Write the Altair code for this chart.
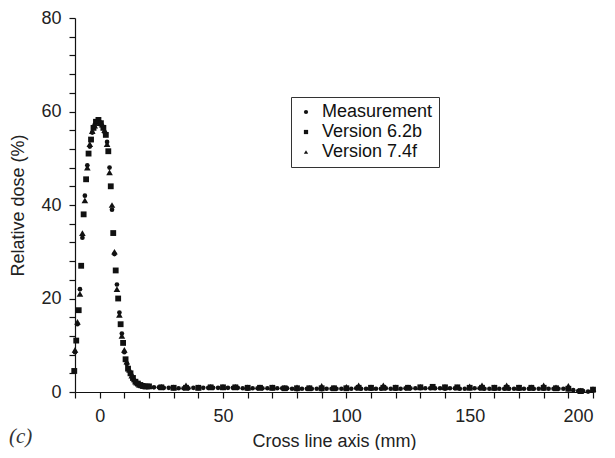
import altair as alt
import pandas as pd

SERIES = ["Measurement", "Version 6.2b", "Version 7.4f"]

# Measurement: peak region every 1 mm, tail every 2 mm
meas_x_peak = list(range(-10, 20))
meas_y_peak = [8.5, 14.5, 22, 33, 42, 48.5, 52.5, 55.5, 57.2, 58,
               57.8, 57, 55.5, 53.5, 48, 39, 29.5, 23, 17, 12.5,
               8.5, 6, 4.5, 3.5, 2.5, 2, 1.6, 1.4, 1.2, 1.1]
meas_x_tail = list(range(20, 201, 2))
meas_y_tail = [1.1, 1.0, 1.0, 0.9, 0.9, 0.8, 0.8, 0.8, 0.8, 0.9,
               0.8, 0.9, 0.9, 0.9, 0.9, 0.9, 0.9, 0.9, 0.9, 0.8,
               0.7, 0.8, 0.8, 0.8, 0.8, 0.8, 0.8, 0.8, 0.8, 0.7,
               0.6, 0.7, 0.7, 0.7, 0.7, 0.6, 0.7, 0.7, 0.7, 0.7,
               0.7, 0.7, 0.8, 0.7, 0.7, 0.7, 0.7, 0.7, 0.8, 0.7,
               0.7, 0.7, 0.8, 0.8, 0.8, 0.8, 0.8, 0.8, 0.8, 0.8,
               0.7, 0.8, 0.8, 0.7, 0.7, 0.8, 0.8, 0.8, 0.7, 0.7,
               0.7, 0.7, 0.7, 0.7, 0.7, 0.7, 0.7, 0.7, 0.7, 0.7,
               0.7, 0.7, 0.7, 0.7, 0.7, 0.6, 0.4, 0.2, 0.2, 0.1,
               0.3]

# Version 6.2b (squares)
v62_x_peak = [-10.3, -9.5, -8.5, -7.5, -6.5, -5.5, -4.5, -3.5, -2.5, -1.5,
              -0.5, 0.5, 1.5, 2.5, 3.5, 4.5, 5.5, 6.5, 7.5, 8.5,
              9.5, 10.5, 11.5, 12.5, 13.5, 14.5, 15.5, 16.5, 17.5, 18.5]
v62_y_peak = [4.5, 11, 17.5, 27, 38, 45.5, 51, 54, 56.5, 57.8,
              58.2, 57.5, 56.5, 55, 51.5, 44, 34, 26, 20, 14.5,
              10.5, 7, 5, 4, 3, 2.2, 1.8, 1.5, 1.3, 1.2]
v62_x_tail = list(range(20, 201, 5))
v62_y_tail = [1.2, 1.0, 0.9, 0.9, 0.9, 1.0, 1.0, 1.0, 0.9, 0.9,
              0.9, 0.8, 0.8, 0.8, 0.8, 0.8, 0.8, 0.9, 0.9, 0.9,
              0.9, 0.9, 1.0, 1.1, 1.0, 1.0, 0.9, 0.9, 0.9, 0.9,
              0.9, 0.9, 0.9, 0.8, 0.7, 0.2, 0.5]

# Version 7.4f (triangles)
v74_x_peak = list(range(-10, 20))
v74_y_peak = [9, 15, 21, 34, 41, 48, 53, 55.8, 57, 58,
              57.5, 57.2, 56, 53, 47, 40, 30, 22, 16.5, 12,
              9, 6.5, 4.8, 3.5, 2.7, 2.0, 1.6, 1.4, 1.3, 1.2]
v74_x_tail = list(range(20, 201, 5))
v74_y_tail = [1.3, 1.1, 1.0, 1.4, 1.0, 1.1, 1.1, 1.1, 1.0, 1.0,
              1.0, 0.9, 1.0, 0.9, 1.3, 0.9, 1.1, 1.4, 1.0, 1.4,
              1.0, 1.0, 1.1, 1.0, 1.1, 1.0, 1.2, 1.4, 1.0, 1.4,
              1.0, 1.0, 1.4, 1.0, 1.3, 0.3, 0.6]

frames = []
for name, xs, ys in [
    (SERIES[0], meas_x_peak + meas_x_tail, meas_y_peak + meas_y_tail),
    (SERIES[1], v62_x_peak + v62_x_tail, v62_y_peak + v62_y_tail),
    (SERIES[2], v74_x_peak + v74_x_tail, v74_y_peak + v74_y_tail),
]:
    frames.append(pd.DataFrame({"x": xs, "y": ys, "series": name}))
df = pd.concat(frames, ignore_index=True)

FONT = "Liberation Sans"
INK = "#111111"

x_enc = alt.X(
    "x:Q",
    scale=alt.Scale(domain=[-10, 200], nice=False, zero=False),
    axis=alt.Axis(
        values=list(range(-10, 201, 10)),
        labelExpr="datum.value % 50 === 0 ? datum.label : ''",
        labelPadding=9,
        title="Cross line axis (mm)",
        titleY=54,
        titleBaseline="alphabetic",
    ),
)
y_enc = alt.Y(
    "y:Q",
    scale=alt.Scale(domain=[0, 80], nice=False),
    axis=alt.Axis(
        values=list(range(0, 81, 4)),
        labelExpr="datum.value % 20 === 0 ? datum.label : ''",
        labelPadding=8,
        title="Relative dose (%)",
        titleX=-57,
        titleY=187,
        titleAngle=270,
        titleBaseline="middle",
        titleAlign="center",
    ),
)
shape_enc = alt.Shape(
    "series:N",
    scale=alt.Scale(domain=SERIES, range=["circle", "square", "triangle-up"]),
    legend=alt.Legend(
        title=None,
        orient="none",
        legendX=216,
        legendY=79,
        strokeColor="#333333",
        fillColor="white",
        padding=6,
        labelFont=FONT,
        labelFontSize=18,
        labelColor=INK,
        labelOffset=7,
        labelExpr="datum.label + '\u00a0\u00a0'",
        symbolSize=18,
        symbolFillColor=INK,
        symbolStrokeColor=INK,
        rowPadding=2,
    ),
)

sizes = {SERIES[0]: 22, SERIES[1]: 34, SERIES[2]: 44}
layers = []
for s in SERIES:
    layers.append(
        alt.Chart(df)
        .transform_filter(alt.datum.series == s)
        .mark_point(filled=True, size=sizes[s], color=INK, opacity=1)
        .encode(x=x_enc, y=y_enc, shape=shape_enc)
    )

chart = (
    alt.layer(*layers)
    .properties(
        width=518,
        height=374,
        padding={"left": 67, "top": 10, "right": 14, "bottom": 58},
        autosize=alt.AutoSizeParams(type="none"),
        title=alt.TitleParams(
            "(c)",
            orient="top",
            anchor="start",
            baseline="alphabetic",
            dy=459,
            font="Liberation Serif",
            fontStyle="italic",
            fontWeight="normal",
            fontSize=21,
            color="#333333",
        ),
    )
    .configure_view(stroke=None)
    .configure_axis(
        grid=False,
        domainColor=INK,
        domainWidth=1.2,
        tickColor=INK,
        tickWidth=1.2,
        tickSize=6,
        labelFont=FONT,
        labelFontSize=18,
        labelColor="#222222",
        titleFont=FONT,
        titleFontSize=18,
        titleFontWeight="normal",
        titleColor="#222222",
    )
)

chart.save("out.html", embed_options={"renderer": "svg", "actions": False})
